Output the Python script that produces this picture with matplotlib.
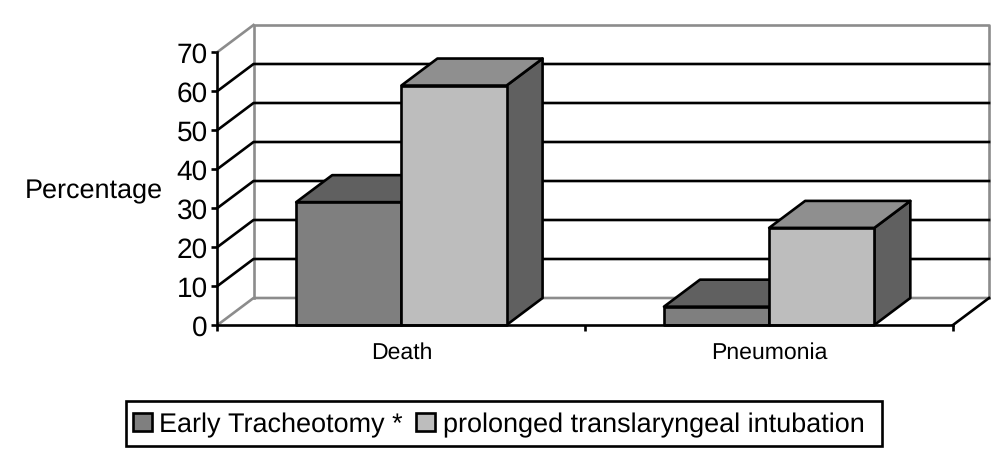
import matplotlib
matplotlib.use('Agg')
import matplotlib.pyplot as plt
from matplotlib.patches import Polygon, Patch, Rectangle

plt.rcParams['font.family'] = ['Liberation Sans', 'DejaVu Sans']
plt.rcParams['text.hinting'] = 'none'
plt.rcParams['text.hinting_factor'] = 1

categories = ['Death', 'Pneumonia']
early = [31.5, 4.7]
prolonged = [61.4, 24.9]
yticks = [0, 10, 20, 30, 40, 50, 60, 70]
series_names = ['Early Tracheotomy *', 'prolonged translaryngeal intubation']

# faux 3d, depth of the box in data units
dx = 36 / 367.5
dy = 27 / 3.9
bw = 0.286
lw = 1.9
wall = '#8c8c8c'

fig = plt.figure(figsize=(10.04, 4.6), dpi=100)
ax = fig.add_axes([217.5 / 1004, 1 - 326 / 460, 735.5 / 1004, 273 / 460])
ax.set_xlim(0, len(categories))
ax.set_ylim(0, yticks[-1])
top = yticks[-1]
n = len(categories)

# back wall and side wall
ax.plot([dx, dx, n + dx, n + dx], [dy, top + dy, top + dy, dy], color=wall, lw=lw, clip_on=False, zorder=2)
ax.plot([0, dx], [top, top + dy], color=wall, lw=lw, clip_on=False, zorder=2)
ax.plot([0, dx, n + dx], [0, dy, dy], color=wall, lw=lw, clip_on=False, zorder=2)
ax.plot([n, n + dx], [0, dy], color='black', lw=lw, clip_on=False, zorder=2)

# gridlines
for v in yticks[1:-1]:
    ax.plot([0, dx, n + dx], [v, v + dy, v + dy], color='black', lw=lw, clip_on=False, zorder=2)


def bar3d(x0, h, front, roof, side, z):
    x1 = x0 + bw
    ax.add_patch(Polygon([(x1, 0), (x1 + dx, dy), (x1 + dx, h + dy), (x1, h)], fc=side, ec='black', lw=lw, joinstyle='round', clip_on=False, zorder=z))
    ax.add_patch(Polygon([(x0, h), (x0 + dx, h + dy), (x1 + dx, h + dy), (x1, h)], fc=roof, ec='black', lw=lw, joinstyle='round', clip_on=False, zorder=z))
    ax.add_patch(Polygon([(x0, 0), (x0, h), (x1, h), (x1, 0)], fc=front, ec='black', lw=lw, joinstyle='round', clip_on=False, zorder=z))


for i in range(n):
    bar3d(i + 0.5 - bw, early[i], '#7f7f7f', '#606060', '#606060', 3)
    bar3d(i + 0.5, prolonged[i], '#bdbdbd', '#8f8f8f', '#606060', 4)

for s in ['top', 'right']:
    ax.spines[s].set_visible(False)
for s in ['left', 'bottom']:
    ax.spines[s].set_linewidth(lw)
    ax.spines[s].set_zorder(5)

ax.set_yticks(yticks)
ax.tick_params(axis='y', labelsize=20, length=4, width=lw, pad=3)
ax.set_xticks(range(n + 1))
ax.set_xticklabels([])
ax.set_xticks([i + 0.5 for i in range(n)], categories, minor=True)
ax.tick_params(axis='x', which='major', length=4, width=lw)
ax.tick_params(axis='x', which='minor', length=0, labelsize=16.8, pad=11.5)

ax.set_ylabel('Percentage', rotation=0, fontsize=19.7, ha='center', va='center')
ax.yaxis.set_label_coords(-(217.5 - 94) / 735.5, (326 - 191.5) / 273)

# legend box is off-centre round its contents, so drawn on its own
fig.add_artist(Rectangle((126 / 1004, 1 - 447 / 460), 756 / 1004, 45 / 460, transform=fig.transFigure,
                         fc='white', ec='black', lw=lw))
handles = [Patch(fc='#7f7f7f', ec='black', lw=lw), Patch(fc='#bdbdbd', ec='black', lw=lw)]
leg = fig.legend(handles, series_names, ncols=2, loc='center left', bbox_to_anchor=(133 / 1004, 1 - 425.5 / 460),
                 fontsize=19.4, frameon=False,
                 handlelength=0.7, handleheight=0.65, handletextpad=0.28, columnspacing=0.5,
                 borderpad=0, borderaxespad=0)

fig.savefig('out.png', dpi=100)
